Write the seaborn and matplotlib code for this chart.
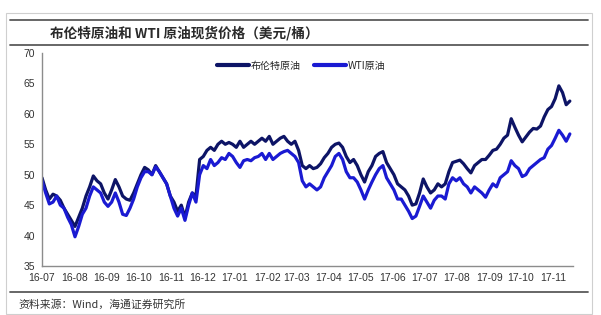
import matplotlib
matplotlib.use("Agg")
import matplotlib.pyplot as plt
import matplotlib.dates as mdates
from matplotlib.lines import Line2D
from matplotlib.patches import Rectangle
import numpy as np
import pandas as pd
import seaborn as sns

# ---------------- data (half-weekly) ----------------
start_date = "2016-07-01"
step = "84h"  # roughly two readings per week

brent = [
    49.5, 47.5, 46.0, 46.8, 46.5, 45.8, 44.5, 43.5, 42.5, 41.5,
    43.0, 44.5, 46.5, 48.0, 49.8, 49.0, 48.5, 47.0, 46.0, 47.5,
    49.2, 48.0, 46.5, 46.0, 45.8, 47.0, 48.5, 50.0, 51.2, 50.8,
    50.0, 51.5, 50.5, 49.5, 48.5, 46.5, 45.5, 44.0, 45.0, 43.0,
    45.5, 47.0, 46.5, 52.5, 53.0, 54.0, 54.5, 54.0, 55.0, 55.5,
    55.0, 55.3, 55.0, 54.5, 55.5, 54.5, 55.0, 55.5, 55.0, 55.5,
    56.0, 55.5, 56.3, 55.0, 55.5, 56.0, 56.3, 55.5, 55.0, 55.5,
    54.0, 51.5, 51.0, 51.5, 51.0, 51.2, 51.8, 52.8, 53.5, 54.5,
    55.0, 55.2, 54.5, 53.0, 52.0, 52.5, 51.5, 50.0, 48.8, 50.5,
    51.5, 53.0, 53.5, 53.8, 52.0, 51.0, 50.0, 48.5, 48.0, 47.5,
    46.5, 45.0, 45.2, 47.0, 49.3, 48.0, 47.0, 47.5, 48.5, 48.0,
    48.5, 50.5, 52.0, 52.2, 52.4, 51.8, 51.0, 50.3, 51.5, 52.0,
    52.5, 52.5, 53.2, 54.0, 54.2, 55.0, 56.0, 56.5, 59.2, 57.8,
    56.5, 55.4, 56.2, 57.0, 57.6, 57.5, 58.0, 59.5, 60.7, 61.2,
    62.5, 64.6, 63.5, 61.5, 62.1,
]

wti = [
    49.0, 47.0, 45.2, 45.5, 46.5, 45.0, 44.5, 43.0, 41.8, 39.8,
    41.5, 43.5, 44.5, 46.5, 48.0, 47.5, 47.0, 45.5, 44.8, 45.5,
    47.0, 45.5, 43.5, 43.3, 44.5, 46.0, 48.0, 49.5, 50.5, 50.5,
    50.0, 51.3, 50.5, 49.5, 48.5, 46.5, 44.5, 43.2, 44.5, 42.5,
    45.0, 47.0, 45.5, 50.0, 51.5, 51.0, 52.5, 51.5, 52.0, 52.8,
    52.5, 53.5, 53.0, 52.0, 51.2, 52.3, 52.5, 52.3, 52.8, 53.0,
    53.5, 52.5, 53.5, 52.5, 53.0, 53.5, 53.8, 54.0, 53.5, 53.0,
    52.0, 49.0, 48.0, 48.5, 48.0, 47.5, 48.0, 49.5, 50.5, 51.5,
    53.0, 53.5, 52.5, 50.5, 49.5, 49.5, 48.8, 47.5, 46.0, 47.5,
    48.8, 50.0, 51.0, 51.5, 49.5, 48.5, 47.5, 46.0, 46.0, 45.0,
    44.0, 42.8, 43.2, 44.8, 46.5, 45.5, 44.5, 45.8, 46.5, 46.5,
    46.0, 48.5, 49.5, 49.0, 49.5, 48.5, 48.0, 47.0, 48.0, 47.5,
    47.0, 46.3, 47.5, 48.5, 48.0, 49.5, 50.0, 50.5, 52.3, 51.5,
    51.0, 49.7, 50.0, 51.0, 51.5, 52.0, 52.5, 52.8, 54.2, 54.8,
    56.0, 57.3, 56.5, 55.5, 56.7,
]

series_names = ["布伦特原油", "WTI原油"]
title_text = "布伦特原油和 WTI 原油现货价格（美元/桶）"
source_text = "资料来源：Wind，海通证券研究所"
y_ticks = [35, 40, 45, 50, 55, 60, 65, 70]

dates = pd.date_range(start_date, periods=len(brent), freq=step)
df = pd.DataFrame({
    "date": np.concatenate([dates, dates]),
    "price": brent + wti,
    "series": [series_names[0]] * len(brent) + [series_names[1]] * len(wti),
})

# ---------------- style ----------------
sns.set_style("white")
plt.rcParams["font.family"] = ["Liberation Sans", "Noto Sans CJK SC"]
plt.rcParams["axes.unicode_minus"] = False

W, H = 601, 315
fig = plt.figure(figsize=(W / 100, H / 100), dpi=100)
fig.patch.set_facecolor("white")

# outer frame and rules
fig.add_artist(Rectangle((6 / W, 1 - 314 / H), (592 - 6) / W, (314 - 13) / H,
                         transform=fig.transFigure, fill=False,
                         edgecolor="#cfcfcf", linewidth=0.8))
for yy in (19.5, 45, 292):
    fig.add_artist(Line2D([9.5 / W, 588 / W], [1 - yy / H, 1 - yy / H],
                          transform=fig.transFigure, color="#5a5a5a",
                          linewidth=1.3))

fig.text(50 / W, 1 - 33 / H, title_text, fontsize=9.8, fontweight="bold",
         family=["Noto Sans CJK SC", "DejaVu Sans"], color="#2a2a2a",
         ha="left", va="center")
fig.text(18 / W, 1 - 305 / H, source_text, fontsize=7.8,
         family=["Noto Sans CJK SC", "DejaVu Sans"], color="#333333",
         ha="left", va="center")

ax = fig.add_axes([42 / W, 49 / H, (573 - 42) / W, (266 - 53) / H])
palette = {series_names[0]: "#0d1466", series_names[1]: "#1a1ad2"}
sns.lineplot(data=df, x="date", y="price", hue="series", palette=palette,
             linewidth=2.3, ax=ax, legend=False)

ax.set_ylim(35, 70)
ax.set_yticks(y_ticks)
ax.set_xlim(pd.Timestamp("2016-07-01"), pd.Timestamp("2017-11-20"))
ax.xaxis.set_major_locator(mdates.MonthLocator())
ax.xaxis.set_major_formatter(mdates.DateFormatter("%y-%m"))
ax.set_xlabel("")
ax.set_ylabel("")

for s in ("top", "right"):
    ax.spines[s].set_visible(False)
for s in ("left", "bottom"):
    ax.spines[s].set_color("#8c8c8c")
    ax.spines[s].set_linewidth(1.0)
ax.tick_params(axis="both", which="major", direction="out", length=3,
               width=0.8, color="#8c8c8c", labelsize=7.5,
               labelcolor="#333333", pad=2)
ax.grid(False)

handles = [Line2D([], [], color=palette[n], linewidth=3.0) for n in series_names]
ax.legend(handles, series_names, loc="center", bbox_to_anchor=(0.488, 0.94),
          ncol=2, frameon=False, handlelength=3.2,
          handletextpad=0.2, columnspacing=1.3,
          prop={"family": ["Noto Sans CJK SC", "DejaVu Sans"], "size": 7.2})

fig.savefig("out.png", dpi=100, facecolor="white")
